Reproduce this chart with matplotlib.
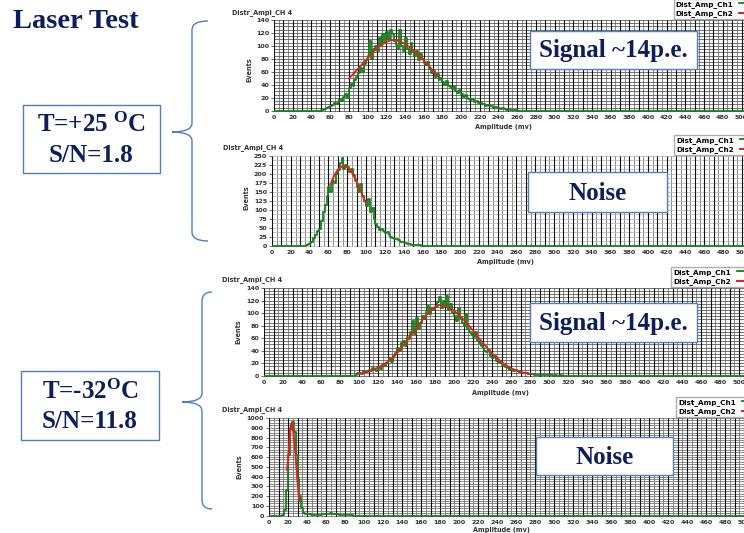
import numpy as np
import matplotlib
matplotlib.use("Agg")
import matplotlib.pyplot as plt
from matplotlib.patches import Rectangle, PathPatch
from matplotlib.path import Path
from matplotlib.ticker import MultipleLocator

plt.rcParams["mathtext.fontset"] = "custom"
plt.rcParams["mathtext.rm"] = "Liberation Serif:bold"
plt.rcParams["mathtext.it"] = "Liberation Serif:bold"
plt.rcParams["mathtext.bf"] = "Liberation Serif:bold"

# ---------------- data ----------------
# T=+25C signal, Ch1 histogram, 2 mV bins starting at 50 mV
sig25_start = 50
sig25_counts = [1, 2, 3, 4, 6, 7, 9, 12, 10, 14, 18, 15, 22, 26, 20,
                35, 42, 38, 48, 52, 58, 66, 60, 72, 78, 85, 108, 80, 95, 100,
                92, 112, 100, 118, 105, 122, 110, 125, 118, 108,
                102, 96, 124, 100, 92, 112, 95, 88, 104, 90,
                85, 92, 78, 88, 80, 74, 70, 76, 64, 58,
                62, 52, 56, 48, 50, 44, 40, 46, 38, 36,
                34, 38, 30, 28, 32, 26, 22, 24, 20, 18,
                16, 18, 14, 15, 12, 12, 10, 11, 8, 9,
                7, 8, 5, 6, 4, 5, 3, 4, 3, 2, 3, 2, 2, 1, 1]
sig25_fit_x = [80, 85, 90, 95, 100, 105, 110, 115, 120, 125, 130, 135,
               140, 145, 150, 155, 160, 165, 170, 175]
sig25_fit_y = [50, 57, 65, 73, 81, 89, 96, 102, 106, 109, 109, 107,
               103, 98, 92, 85, 78, 70, 62, 54]

# T=+25C noise
noi25_start = 36
noi25_counts = [2, 4, 8, 12, 22, 30, 40, 48, 70, 95, 115, 140,
                165, 150, 180, 175, 200, 212, 230, 245, 215, 225,
                220, 205, 215, 198, 180, 165, 150, 172, 140, 125,
                112, 130, 95, 105, 75, 60, 52, 45, 48, 40,
                35, 38, 30, 25, 22, 18, 20, 15, 12, 10,
                8, 9, 6, 4, 3, 2, 2, 1, 1, 0]
noi25_fit_x = [62, 66, 70, 74, 78, 82, 86, 90, 94, 98, 100]
noi25_fit_y = [170, 195, 212, 220, 222, 215, 200, 180, 155, 130, 118]

# T=-32C signal
sig32_start = 96
sig32_counts = [2, 4, 5, 3, 7, 6, 8, 9, 7, 12, 10, 8,
                14, 11, 18, 16, 20, 24, 28, 22, 32, 36,
                45, 40, 52, 55, 48, 62, 58, 70, 88, 66,
                92, 75, 85, 96, 90, 102, 112, 98, 108, 105,
                110, 118, 125, 108, 120, 112, 128, 105, 115, 100,
                96, 88, 108, 92, 85, 80, 98, 74, 70, 66,
                62, 70, 56, 52, 48, 45, 40, 38, 42, 32,
                28, 32, 24, 22, 20, 18, 16, 14, 12, 10,
                10, 8, 9, 7, 6, 6, 5, 4, 4, 3,
                3, 3, 2, 2, 2, 2, 1, 1, 1, 1,
                1, 1, 0, 1, 0, 0, 1, 0, 0, 0]
sig32_fit_x = [100, 110, 120, 130, 140, 150, 160, 170, 180, 185, 190,
               200, 210, 220, 230, 240, 250, 260, 270, 280]
sig32_fit_y = [3, 7, 13, 22, 36, 55, 75, 96, 110, 113, 112,
               104, 90, 72, 53, 36, 22, 12, 6, 3]

# T=-32C noise
noi32_start = 14
noi32_counts = [5, 60, 260, 620, 890, 960, 860, 620, 380, 200, 80, 30,
                18, 14, 12, 10, 8, 8, 6, 8, 10, 14, 18, 20, 18, 22,
                20, 18, 16, 14, 10, 8, 6, 5, 3, 2, 2, 1]
noi32_fit_x = [19, 20, 21, 22, 23, 24, 25, 26, 27, 28, 29, 30, 31, 32]
noi32_fit_y = [470, 560, 700, 860, 930, 950, 900, 820, 720, 620, 480,
               350, 240, 150]

x_ticks = np.arange(0, 501, 20)

W, H = 744, 533
navy = "#0c1e5b"
blue = "#4f7fbf"
green = "#17801a"
red = "#e02020"

fig = plt.figure(figsize=(W / 100, H / 100), dpi=100)


def panel(left, zero, top, ymax, ystep, xs, hstep, hcol, start, counts, bin_w,
          fx, fy):
    xmax = 510
    yl = -ymax * 0.012
    hpx = (zero - top) / (1 - yl / ymax)
    ax = fig.add_axes([left / W, 1 - (top + hpx) / H,
                       xmax * xs / W, hpx / H])
    ax.set_xlim(0, xmax)
    ax.set_ylim(yl, ymax)
    # histogram padded with empty bins over the whole range
    n_left = int(start / bin_w)
    n_right = int((xmax - start) / bin_w) - len(counts) + 1
    y = np.r_[np.zeros(n_left), counts, np.zeros(max(n_right, 0))]
    edges = np.arange(len(y)) * bin_w
    ax.plot(edges, y, drawstyle="steps-post", color=green, lw=1.3,
            zorder=3, label="Dist_Amp_Ch1")
    ax.plot(fx, fy, color=red, lw=1.4, zorder=4, label="Dist_Amp_Ch2")

    ax.set_xticks(x_ticks)
    ax.set_yticks(np.arange(0, ymax + 1, ystep))
    ax.xaxis.set_minor_locator(MultipleLocator(5))
    ax.yaxis.set_minor_locator(MultipleLocator(hstep))
    ax.grid(which="minor", axis="x", color="#6a6a6a", lw=0.55)
    ax.grid(which="minor", axis="y", color=hcol, lw=0.55)
    ax.grid(which="major", axis="y", color=hcol, lw=0.55)
    ax.vlines(np.arange(0, xmax + 1, 10), 0, 1,
              transform=ax.get_xaxis_transform(), color="#111111",
              lw=0.8, zorder=1)
    ax.set_axisbelow(True)
    ax.tick_params(axis="x", which="both", length=0, pad=2,
                   labelsize=4.6, labelcolor="#333333")
    ax.tick_params(axis="y", which="major", length=2.5, width=0.6,
                   pad=1, labelsize=4.6, labelcolor="#333333",
                   color="#555555")
    ax.tick_params(axis="y", which="minor", length=0)
    for lab in ax.get_xticklabels() + ax.get_yticklabels():
        lab.set_fontweight("bold")
    for s in ax.spines.values():
        s.set_visible(False)
    ax.legend(loc="lower right", bbox_to_anchor=(1.0, 1.0),
              bbox_transform=ax.transAxes, markerfirst=False,
              prop={"weight": "bold", "size": 5.2},
              frameon=True, fancybox=False, edgecolor="#999999",
              handlelength=1.2, borderpad=0.3, labelspacing=0.3,
              borderaxespad=0.1)
    return ax


panel(274, 113, 20, 140, 20, 0.935, 5, "#505050",
      sig25_start, sig25_counts, 2, sig25_fit_x, sig25_fit_y)
panel(272, 248, 156, 250, 25, 0.94, 12.5, "#b8b8b8",
      noi25_start, noi25_counts, 2, noi25_fit_x, noi25_fit_y)
panel(264, 378, 288, 140, 20, 0.95, 5, "#505050",
      sig32_start, sig32_counts, 2, sig32_fit_x, sig32_fit_y)
panel(269, 518, 418, 1000, 100, 0.95, 25, "#707070",
      noi32_start, noi32_counts, 2, noi32_fit_x, noi32_fit_y)

# ---------------- overlay in pixel coordinates ----------------
ov = fig.add_axes([0, 0, 1, 1], zorder=10)
ov.set_xlim(0, W)
ov.set_ylim(H, 0)
ov.axis("off")
ov.patch.set_alpha(0)

small = dict(fontsize=4.7, fontweight="bold", color="#333333",
             family="DejaVu Sans")
for x, y in [(232, 13), (223, 148), (222, 280), (222, 410)]:
    ov.text(x, y, "Distr_Ampl_CH 4", ha="left", va="center", **small)
for x, y in [(249, 70), (246, 198), (238, 332), (239, 467)]:
    ov.text(x, y, "Events", ha="center", va="center", rotation=90, **small)
for x, y in [(475, 127), (477, 262), (472, 393), (473, 530)]:
    ov.text(x, y, "Amplitude (mv)", ha="left", va="center", **small)

serif = dict(family="Liberation Serif", fontweight="bold", color=navy)
ov.text(13, 22, "Laser Test", ha="left", va="center", fontsize=20.5, **serif)

# annotation boxes
boxes = [(23, 105, 160, 173, ["T=+25 $^{O}$C", "S/N=1.8"]),
         (21, 371, 159, 440, ["T=-32$^{O}$C", "S/N=11.8"])]
for x0, y0, x1, y1, lines in boxes:
    ov.add_patch(Rectangle((x0, y0), x1 - x0, y1 - y0, fc="white",
                           ec=blue, lw=1.0))
    yc = (y0 + y1) / 2
    ov.text((x0 + x1) / 2, yc - 14, lines[0], ha="center", va="center",
            fontsize=18, **serif)
    ov.text((x0 + x1) / 2, yc + 16, lines[1], ha="center", va="center",
            fontsize=18, **serif)

labels = [(530, 31, 697, 69, "Signal ~14p.e."),
          (528, 172, 667, 212, "Noise"),
          (530, 303, 697, 342, "Signal ~14p.e."),
          (536, 437, 673, 475, "Noise")]
for x0, y0, x1, y1, t in labels:
    ov.add_patch(Rectangle((x0, y0), x1 - x0, y1 - y0, fc="white",
                           ec=blue, lw=1.0))
    ov.text((x0 + x1) / 2, (y0 + y1) / 2 + 1, t, ha="center", va="center",
            fontsize=18, **serif)


def brace(xtip, xv, xend, ytop, ymid, ybot):
    r = 9
    verts = [(xend, ytop), (xv, ytop), (xv, ytop + r),
             (xv, ymid - r), (xv, ymid), (xtip, ymid),
             (xv, ymid), (xv, ymid + r),
             (xv, ybot - r), (xv, ybot), (xend, ybot)]
    codes = [Path.MOVETO, Path.CURVE3, Path.CURVE3,
             Path.LINETO, Path.CURVE3, Path.CURVE3,
             Path.CURVE3, Path.CURVE3,
             Path.LINETO, Path.CURVE3, Path.CURVE3]
    ov.add_patch(PathPatch(Path(verts, codes), fc="none", ec=blue, lw=1.0))


brace(172, 192, 208, 21, 132, 241)
brace(182, 202, 212, 292, 402, 509)

fig.savefig("out.png", dpi=100)
